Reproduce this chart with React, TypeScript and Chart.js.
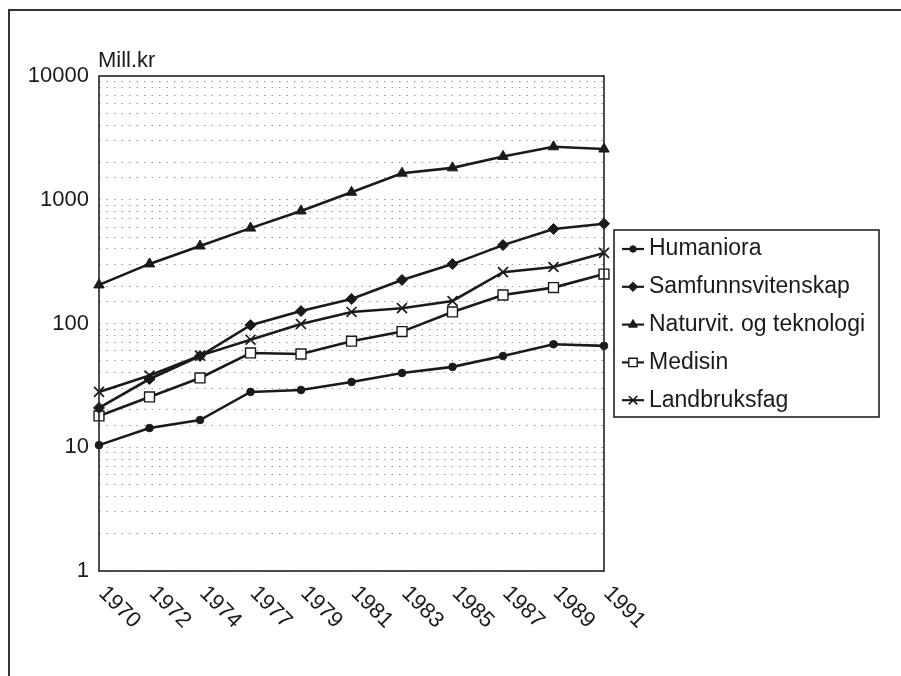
import React, { useEffect, useRef } from "react";
import { Chart, registerables } from "chart.js";
import { drawPoint } from "chart.js/helpers";

Chart.register(...registerables);

const years = ["1970", "1972", "1974", "1977", "1979", "1981", "1983", "1985", "1987", "1989", "1991"];
const humaniora = [10.4, 14.3, 16.6, 28, 29, 33.7, 39.8, 44.6, 54.6, 68, 66];
const samfunnsvitenskap = [20.8, 35.6, 54.6, 97, 126, 158, 225, 302, 430, 580, 640];
const naturvit = [205, 303, 423, 590, 812, 1150, 1640, 1810, 2240, 2680, 2570];
const medisin = [17.9, 25.5, 36.3, 57.8, 56.7, 72, 86, 124, 170, 195, 251];
const landbruksfag = [28, 38, 55, 74, 99, 124, 133, 152, 260, 286, 372];
const yTickLabels = [1, 10, 100, 1000, 10000];

const FONT = "'Liberation Sans', Arial, Helvetica, sans-serif";

const decorPlugin = {
  id: "decor",
  beforeDraw(chart: any) {
    const ctx = chart.ctx;
    ctx.save();
    ctx.fillStyle = "#ffffff";
    ctx.fillRect(0, 0, chart.width, chart.height);
    ctx.strokeStyle = "#333333";
    ctx.lineWidth = 2;
    ctx.beginPath();
    ctx.moveTo(9, chart.height);
    ctx.lineTo(9, 10);
    ctx.lineTo(chart.width, 10);
    ctx.stroke();
    ctx.restore();
  },
  afterDraw(chart: any) {
    const ctx = chart.ctx;
    const a = chart.chartArea;
    ctx.save();
    // plot frame
    ctx.strokeStyle = "#222222";
    ctx.lineWidth = 1.6;
    ctx.strokeRect(a.left, a.top, a.right - a.left, a.bottom - a.top);
    // axis title
    ctx.fillStyle = "#1a1a1a";
    ctx.font = `22px ${FONT}`;
    ctx.textAlign = "left";
    ctx.textBaseline = "middle";
    ctx.fillText("Mill.kr", a.left - 1, a.top - 15);
    // rotated x labels
    const xs = chart.scales.x;
    ctx.font = `22px ${FONT}`;
    years.forEach((lab, i) => {
      const x = xs.getPixelForValue(i);
      ctx.save();
      ctx.translate(x + 3, a.bottom + 19);
      ctx.rotate(Math.PI / 4);
      ctx.textAlign = "left";
      ctx.textBaseline = "middle";
      ctx.fillText(lab, 0, 0);
      ctx.restore();
    });
    // legend
    const lx = 614, ly = 230, lw = 265, lh = 187;
    ctx.strokeStyle = "#222222";
    ctx.lineWidth = 1.6;
    ctx.strokeRect(lx, ly, lw, lh);
    chart.data.datasets.forEach((ds: any, i: number) => {
      const y = 249 + i * 37.8;
      ctx.strokeStyle = "#1a1a1a";
      ctx.lineWidth = 2.2;
      ctx.beginPath();
      ctx.moveTo(622, y);
      ctx.lineTo(644, y);
      ctx.stroke();
      ctx.fillStyle = ds.pointBackgroundColor;
      ctx.strokeStyle = "#1a1a1a";
      ctx.lineWidth = ds.pointBorderWidth;
      drawPoint(ctx, { pointStyle: ds.pointStyle, radius: ds.pointRadius * 0.85, rotation: 0, borderWidth: ds.pointBorderWidth }, 633, y);
      ctx.fillStyle = "#1a1a1a";
      ctx.font = `23px ${FONT}`;
      ctx.textAlign = "left";
      ctx.textBaseline = "middle";
      ctx.fillText(ds.label, 649, y);
    });
    ctx.restore();
  },
};

function makeDs(label: string, data: number[], style: string, radius: number, fill: string, bw: number) {
  return {
    label,
    data,
    borderColor: "#1a1a1a",
    borderWidth: 2.6,
    pointStyle: style,
    pointRadius: radius,
    pointBackgroundColor: fill,
    pointBorderColor: "#1a1a1a",
    pointBorderWidth: bw,
    fill: false,
    tension: 0,
    clip: false,
  };
}

export default function App() {
  const ref = useRef<HTMLCanvasElement>(null);
  useEffect(() => {
    if (!ref.current) return;
    const chart = new Chart(ref.current, {
      type: "line",
      data: {
        labels: years,
        datasets: [
          makeDs("Humaniora", humaniora, "circle", 3.8, "#1a1a1a", 1),
          makeDs("Samfunnsvitenskap", samfunnsvitenskap, "rectRot", 5.5, "#1a1a1a", 1),
          makeDs("Naturvit. og teknologi", naturvit, "triangle", 6, "#1a1a1a", 1),
          makeDs("Medisin", medisin, "rect", 7, "#ffffff", 1.4),
          makeDs("Landbruksfag", landbruksfag, "crossRot", 7, "#1a1a1a", 1.7),
        ] as any,
      },
      options: {
        animation: false,
        responsive: false,
        maintainAspectRatio: false,
        layout: { padding: { top: 76, right: 297, bottom: 0, left: 0 } },
        plugins: { legend: { display: false }, tooltip: { enabled: false }, title: { display: false } },
        scales: {
          x: {
            type: "category",
            offset: false,
            grid: { display: false },
            border: { display: false },
            ticks: { display: false },
            afterFit(scale: any) {
              scale.height = 105;
            },
          },
          y: {
            type: "logarithmic",
            min: 1,
            max: 10000,
            grid: { color: "#9a9a9a", lineWidth: 1, drawTicks: false, tickLength: 0 },
            border: { display: false, dash: [1.5, 6] },
            ticks: {
              padding: 10,
              color: "#1a1a1a",
              font: { family: FONT, size: 22 },
              autoSkip: false,
              callback: (v: any) => (yTickLabels.includes(Number(v)) ? String(v) : ""),
            },
            afterFit(scale: any) {
              scale.width = 99;
            },
          },
        },
      },
      plugins: [decorPlugin],
    });
    return () => chart.destroy();
  }, []);
  return (
    <div style={{ position: "fixed", left: 0, top: 0, width: 901, height: 676, background: "#fff" }}>
      <canvas ref={ref} width={901} height={676} style={{ display: "block", width: 901, height: 676 }} />
    </div>
  );
}
